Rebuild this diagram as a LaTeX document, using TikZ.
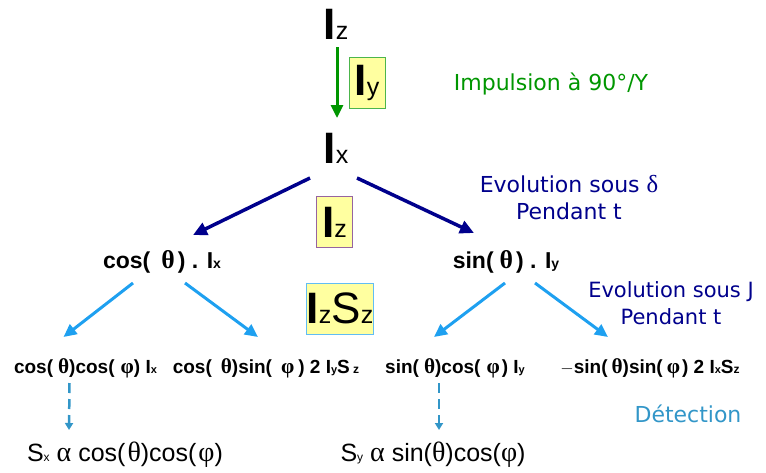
\documentclass[tikz,border=0pt]{standalone}
\usepackage{fontspec}
\setmainfont{Liberation Sans}
\newfontfamily\comic{DejaVu Sans}
\newfontfamily\grk[Scale=1.12]{Liberation Serif}
\usetikzlibrary{arrows.meta}
\definecolor{pulse}{RGB}{0,150,0}
\definecolor{evo}{RGB}{0,0,140}
\definecolor{jblue}{RGB}{30,160,240}
\definecolor{det}{RGB}{50,150,200}
\definecolor{boxy}{RGB}{255,255,160}
\definecolor{purp}{RGB}{150,100,160}
\newcommand\opI[1]{{\fontsize{44}{44}\selectfont\bfseries I}{\fontsize{25}{25}\selectfont #1}}
\newcommand\fs[1]{\fontsize{#1}{#1}\selectfont}
\newcommand\mytheta{{\grk θ}}
\newcommand\myphi{{\grk φ}}
\begin{document}
\begin{tikzpicture}[x=1pt,y=-1pt,
  op/.style={inner sep=0pt},
  opbox/.style={draw, fill=boxy, line width=0.8pt, inner sep=0pt, minimum height=51, minimum width=36},
  mid/.style={inner sep=0pt, font=\fs{23}\bfseries},
  low/.style={inner sep=0pt, font=\fs{19}\bfseries},
  res/.style={inner sep=0pt, font=\fs{25}},
  lab/.style={inner sep=0pt, font=\comic\fs{22}, align=center},
  garrow/.style={draw=pulse, line width=3pt, -{Triangle[length=13pt,width=12pt]}},
  barrow/.style={draw=evo, line width=3.5pt, -{Triangle[length=14pt,width=13pt]}},
  larrow/.style={draw=jblue, line width=3pt, -{Triangle[length=13pt,width=12pt]}},
  darrow/.style={draw=det, line width=2.5pt, dash pattern=on 10pt off 6pt, -{Triangle[length=7pt,width=8pt]}}]
\useasboundingbox (0,0) rectangle (766,472);
% operators
\node[op] (Iz) at (336,24) {\opI{z}};
\node[op] (Ix) at (336,148) {\opI{x}};
\node[opbox, draw=pulse!70] (by) at (367,83) {\opI{y}};
\node[opbox, draw=purp] (bz) at (334.5,222) {\opI{z}};
\node[opbox, draw=jblue!70, minimum width=64] (bzs) at (340,308.5) {\opI{z}{\fs{44}S}{\fs{25}z}};
% labels
\node[lab, text=pulse] (l1) at (551,84) {Impulsion à 90°/Y};
\node[lab, text=evo] (l2) at (569,198) {Evolution sous {\grk δ}\\[5pt]Pendant t};
\node[lab, text=evo, font=\comic\fs{21}] (l3) at (671,303) {Evolution sous J\\[6pt]Pendant t};
\node[lab, text=det] (l4) at (688,414) {Détection};
% second level
\node[mid] (c) at (162,262) {cos(\hspace{11pt}\mytheta\hspace{3pt}) . I{\fs{14}x}};
\node[mid] (s) at (506,262) {sin(\hspace{6pt}\mytheta\hspace{3pt}) . I{\fs{14}y}};
% third level
\node[low] (cc) at (85.5,368) {cos(\hspace{5pt}\mytheta)cos(\hspace{6pt}\myphi) I{\fs{11}x}};
\node[low] (cs) at (266,368) {cos(\hspace{9pt}\mytheta)sin(\hspace{9pt}\myphi\hspace{4pt}) 2 I{\fs{11}y}S{\fs{12} z}};
\node[low] (sc) at (455,368) {sin(\hspace{5pt}\mytheta)cos(\hspace{6pt}\myphi\hspace{2pt}) I{\fs{11}y}};
\node[low] (ss) at (650,368) {$-$sin(\hspace{4pt}\mytheta)sin(\hspace{4pt}\myphi\hspace{2pt}) 2 I{\fs{11}x}S{\fs{12}z}};
% results
\node[res] (rx) at (125,455) {S{\fs{12}x} {\grk α} cos(\hspace{2pt}\mytheta)cos(\hspace{2pt}\myphi)};
\node[res] (ry) at (433,455) {S{\fs{12}y} {\grk α} sin(\mytheta)cos(\myphi)};
% connectors
\draw[garrow] ([xshift=1pt,yshift=-23pt]Iz.center) -- ([xshift=1pt,yshift=30pt]Ix.center);
\draw[barrow] ([xshift=-26pt,yshift=-30pt]Ix.center) -- ([xshift=31pt,yshift=27pt]c.center);
\draw[barrow] ([xshift=21pt,yshift=-30pt]Ix.center) -- ([xshift=-32pt,yshift=29pt]s.center);
\draw[larrow] ([xshift=-29pt,yshift=-21pt]c.center) -- ([xshift=-22pt,yshift=31pt]cc.center);
\draw[larrow] ([xshift=23pt,yshift=-21pt]c.center) -- ([xshift=-8pt,yshift=31pt]cs.center);
\draw[larrow] ([xshift=-1pt,yshift=-21pt]s.center) -- ([xshift=-21pt,yshift=31pt]sc.center);
\draw[larrow] ([xshift=29pt,yshift=-21pt]s.center) -- ([xshift=-42pt,yshift=31pt]ss.center);
\draw[darrow] ([xshift=-16pt,yshift=-15pt]cc.center) -- ([xshift=-56pt,yshift=25pt]rx.center);
\draw[darrow] ([xshift=-16pt,yshift=-15pt]sc.center) -- ([xshift=6pt,yshift=25pt]ry.center);
\end{tikzpicture}
\end{document}
